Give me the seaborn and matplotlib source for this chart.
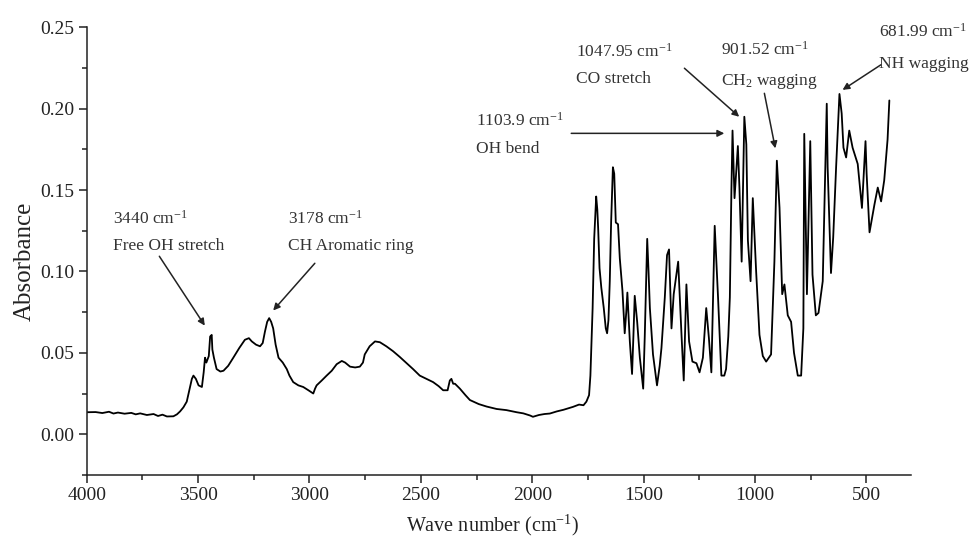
import matplotlib
matplotlib.use("Agg")
import matplotlib.pyplot as plt
from matplotlib.ticker import MultipleLocator, FormatStrFormatter
import pandas as pd
import seaborn as sns

# FTIR spectrum (wave number in cm-1, absorbance)
wavenumber = [
    4000, 3960, 3930, 3900, 3880, 3860, 3830, 3800, 3780, 3760, 3730, 3700,
    3680, 3660, 3640, 3611, 3595, 3581, 3566, 3551, 3538, 3528, 3521, 3510,
    3498, 3483, 3475, 3469, 3463, 3452, 3446, 3439, 3436, 3429, 3417, 3400,
    3386, 3365, 3342, 3315, 3290, 3272, 3259, 3240, 3222, 3210, 3200, 3190,
    3181, 3172, 3163, 3152, 3139, 3120, 3102, 3090, 3073, 3050, 3028, 3005,
    2983, 2975, 2968, 2945, 2923, 2900, 2878, 2855, 2840, 2818, 2795, 2774,
    2760, 2752, 2730, 2706, 2684, 2655, 2625, 2595, 2564, 2535, 2505, 2475,
    2445, 2420, 2400, 2380, 2370, 2363, 2355, 2347, 2325, 2300, 2280, 2240,
    2205, 2160, 2116, 2070, 2040, 2010, 1997, 1970, 1945, 1921, 1890, 1860,
    1817, 1790, 1770, 1757, 1745, 1739, 1729, 1722, 1713, 1708, 1704, 1698,
    1690, 1679, 1670, 1664, 1658, 1652, 1646, 1638, 1632, 1625, 1615, 1607,
    1595, 1585, 1578, 1573, 1562, 1552, 1546, 1540, 1529, 1517, 1502, 1495,
    1484, 1478, 1472, 1458, 1440, 1428, 1420, 1405, 1395, 1386, 1375, 1365,
    1345, 1330, 1320, 1308, 1296, 1281, 1263, 1249, 1234, 1219, 1207, 1196,
    1181, 1166, 1151, 1138, 1130, 1120, 1113, 1106, 1101, 1092, 1077, 1070,
    1060, 1048, 1039, 1032, 1020, 1010, 995, 980, 965, 950, 928, 913,
    902, 890, 878, 868, 853, 838, 825, 808, 793, 783, 779, 767,
    752, 742, 727, 715, 696, 686, 678, 674, 659, 649, 636, 621,
    611, 603, 591, 577, 562, 539, 520, 504, 499, 486, 464, 449,
    434, 420, 405, 397,
]
absorbance = [
    0.0135, 0.0136, 0.0130, 0.0138, 0.0127, 0.0133, 0.0126, 0.0131, 0.0122, 0.0128, 0.0118, 0.0124,
    0.0112, 0.0120, 0.0109, 0.0110, 0.0122, 0.0140, 0.0165, 0.0200, 0.0280, 0.0340, 0.0360, 0.0340,
    0.0300, 0.0290, 0.0380, 0.0470, 0.0440, 0.0480, 0.0600, 0.0610, 0.0520, 0.0470, 0.0400, 0.0385,
    0.0390, 0.0420, 0.0470, 0.0530, 0.0580, 0.0590, 0.0570, 0.0550, 0.0540, 0.0560, 0.0630, 0.0690,
    0.0713, 0.0690, 0.0650, 0.0550, 0.0470, 0.0440, 0.0400, 0.0360, 0.0320, 0.0300, 0.0290, 0.0270,
    0.0250, 0.0280, 0.0300, 0.0330, 0.0360, 0.0390, 0.0430, 0.0450, 0.0440, 0.0415, 0.0410, 0.0415,
    0.0440, 0.0490, 0.0540, 0.0570, 0.0565, 0.0540, 0.0510, 0.0475, 0.0436, 0.0400, 0.0360, 0.0340,
    0.0320, 0.0295, 0.0270, 0.0270, 0.0330, 0.0340, 0.0310, 0.0310, 0.0280, 0.0240, 0.0210, 0.0185,
    0.0170, 0.0155, 0.0148, 0.0135, 0.0128, 0.0115, 0.0107, 0.0118, 0.0124, 0.0127, 0.0140, 0.0150,
    0.0168, 0.0182, 0.0178, 0.0200, 0.0240, 0.0360, 0.0775, 0.1200, 0.1460, 0.1380, 0.1260, 0.1020,
    0.0900, 0.0775, 0.0650, 0.0620, 0.0700, 0.0940, 0.1300, 0.1640, 0.1600, 0.1300, 0.1290, 0.1080,
    0.0880, 0.0620, 0.0750, 0.0870, 0.0570, 0.0370, 0.0600, 0.0850, 0.0690, 0.0470, 0.0280, 0.0600,
    0.1200, 0.1000, 0.0775, 0.0490, 0.0300, 0.0420, 0.0530, 0.0840, 0.1100, 0.1135, 0.0650, 0.0860,
    0.1060, 0.0610, 0.0330, 0.0920, 0.0570, 0.0446, 0.0436, 0.0380, 0.0470, 0.0775, 0.0590, 0.0380,
    0.1280, 0.0840, 0.0360, 0.0360, 0.0400, 0.0600, 0.0840, 0.1500, 0.1865, 0.1450, 0.1770, 0.1515,
    0.1060, 0.1950, 0.1780, 0.1190, 0.0940, 0.1450, 0.1000, 0.0610, 0.0480, 0.0446, 0.0490, 0.1060,
    0.1680, 0.1390, 0.0860, 0.0920, 0.0730, 0.0690, 0.0500, 0.0360, 0.0360, 0.0650, 0.1845, 0.0860,
    0.1800, 0.0980, 0.0730, 0.0745, 0.0940, 0.1540, 0.2030, 0.1640, 0.0990, 0.1210, 0.1640, 0.2090,
    0.1970, 0.1760, 0.1700, 0.1865, 0.1760, 0.1660, 0.1390, 0.1800, 0.1600, 0.1240, 0.1410, 0.1515,
    0.1430, 0.1560, 0.1810, 0.2050,
]

# peak annotations
peak_values = ["3440 cm$^{-1}$", "3178 cm$^{-1}$", "1103.9 cm$^{-1}$",
               "1047.95 cm$^{-1}$", "901.52 cm$^{-1}$", "681.99 cm$^{-1}$"]
peak_names = ["Free OH stretch", "CH Aromatic ring", "OH bend",
              "CO stretch", "CH$_2$ wagging", "NH wagging"]

# where the labels and arrows sit (data coords)
text_x = [3881, 3096, 2251, 1803, 1153, 443]
value_y = [0.1294, 0.1294, 0.1893, 0.2316, 0.2330, 0.2443]
name_y = [0.1129, 0.1129, 0.1725, 0.2156, 0.2146, 0.2248]
arrow_tail = [(3674, 0.1093), (2976, 0.1050), (1825, 0.1848),
              (1317, 0.2248), (958, 0.2094), (435, 0.2269)]
arrow_head = [(3470, 0.0667), (3163, 0.0760), (1138, 0.1848),
              (1071, 0.1950), (909, 0.1756), (607, 0.2115)]

sns.set_theme(style="ticks")
plt.rcParams["font.family"] = ["Liberation Serif", "DejaVu Serif"]
plt.rcParams["mathtext.fontset"] = "custom"
plt.rcParams["mathtext.rm"] = "Liberation Serif"
plt.rcParams["mathtext.it"] = "Liberation Serif:italic"

df = pd.DataFrame({"wavenumber": wavenumber, "absorbance": absorbance})

fig = plt.figure(figsize=(9.69, 5.44), dpi=100)
ax = fig.add_axes([0.0895, 0.127, 0.8506, 0.823])

sns.lineplot(data=df, x="wavenumber", y="absorbance", sort=False,
             estimator=None, color="black", linewidth=1.3, ax=ax)

ax.set_xlim(4000, 300)
ax.set_ylim(-0.025, 0.25)
ax.xaxis.set_major_locator(MultipleLocator(500))
ax.xaxis.set_minor_locator(MultipleLocator(250))
ax.yaxis.set_major_locator(MultipleLocator(0.05))
ax.yaxis.set_minor_locator(MultipleLocator(0.025))
ax.yaxis.set_major_formatter(FormatStrFormatter("%.2f"))
ax.xaxis.set_major_formatter(FormatStrFormatter("%d"))

ax.tick_params(which="major", direction="out", length=6, width=1.1,
               labelsize=14, colors="#222222", pad=3)
ax.tick_params(which="minor", direction="out", length=3.5, width=1.1,
               colors="#222222")
sns.despine(ax=ax)
for side in ["left", "bottom"]:
    ax.spines[side].set_linewidth(1.1)
    ax.spines[side].set_color("#222222")

ax.set_xlabel("Wave number (cm$^{-1}$)", fontsize=14.5, color="#222222")
ax.set_ylabel("Absorbance", fontsize=18, color="#222222")
ax.xaxis.set_label_coords(0.492, -0.085)
ax.yaxis.set_label_coords(-0.062, 0.476)

for i in range(len(peak_names)):
    ax.text(text_x[i], value_y[i], peak_values[i], fontsize=12.5,
            color="#333333", ha="left", va="baseline", clip_on=False)
    ax.text(text_x[i], name_y[i], peak_names[i], fontsize=12.5,
            color="#333333", ha="left", va="baseline", clip_on=False)
    ax.annotate("", xy=arrow_head[i], xytext=arrow_tail[i],
                arrowprops=dict(arrowstyle="-|>", color="#222222", lw=1.1,
                                mutation_scale=10, shrinkA=0, shrinkB=0))

fig.savefig("out.png", dpi=100)
